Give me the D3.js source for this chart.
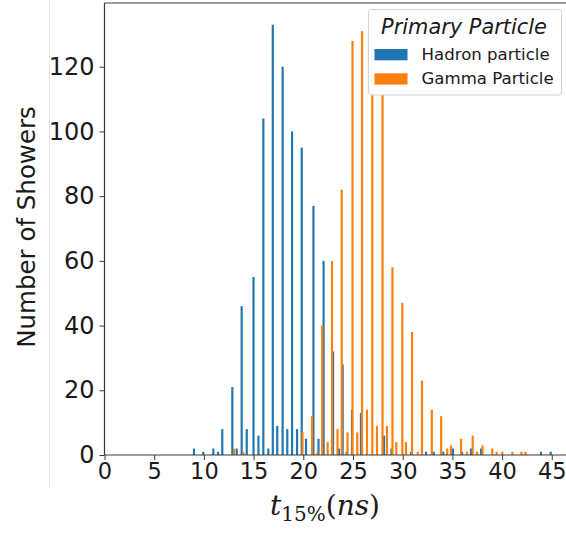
<!DOCTYPE html>
<html>
<head>
<meta charset="utf-8">
<script src="https://cdn.jsdelivr.net/npm/d3@7"></script>
<style>
  html, body { margin: 0; padding: 0; background: #fff; }
  svg { display: block; }
</style>
</head>
<body>
<svg id="chart" width="566" height="534"></svg>
<script>
// ---- data ----
const hadronT = [9.00, 9.94, 10.95, 11.42, 11.85, 12.86, 13.30, 13.80, 14.31, 14.99, 15.49, 15.98, 16.48, 16.93, 17.38, 17.92, 18.39, 18.87, 19.37, 19.84, 20.27, 21.02, 21.53, 22.04, 22.99, 23.59, 23.96, 24.35, 24.90, 25.80, 28.12, 28.87, 30.84, 32.35, 33.12, 34.08, 35.06, 35.97, 36.87, 37.88, 43.91, 44.89];
const hadronN = [2, 1, 2, 1, 8, 21, 2, 46, 8, 55, 6, 104, 2, 133, 9, 120, 8, 100, 8, 95, 5, 77, 5, 60, 32, 2, 28, 1, 14, 13, 6, 2, 1, 1, 1, 1, 2, 1, 2, 2, 1, 1];
const gammaT = [13.03, 13.96, 19.92, 20.88, 21.43, 21.90, 22.45, 22.89, 23.44, 23.87, 24.45, 24.95, 25.43, 25.91, 26.41, 26.94, 27.41, 27.97, 28.42, 28.97, 29.35, 29.96, 30.33, 30.94, 31.51, 31.94, 32.93, 33.87, 34.48, 34.86, 35.87, 36.47, 37.04, 37.47, 38.03, 39.01, 39.44, 40.02, 41.03, 41.95, 42.35];
const gammaN = [2, 1, 7, 12, 1, 40, 4, 60, 8, 82, 7, 128, 7, 131, 14, 121, 9, 112, 9, 58, 4, 47, 4, 38, 1, 23, 14, 12, 2, 3, 5, 1, 6, 1, 3, 2, 1, 1, 1, 1, 1];
const xTicks = [0, 5, 10, 15, 20, 25, 30, 35, 40, 45];
const yTicks = [0, 20, 40, 60, 80, 100, 120];
const seriesNames = ["Hadron particle", "Gamma Particle"];
const seriesColors = ["#1f77b4", "#ff7f0e"];
const legendTitle = "Primary Particle";
const yLabel = "Number of Showers";

// ---- layout ----
const svg = d3.select("#chart");
const x0 = 104.5, pxPerUnit = 9.94;
const xDomain = [0, 47];
const x = d3.scaleLinear().domain(xDomain).range([x0, x0 + (xDomain[1] - xDomain[0]) * pxPerUnit]);
const y = d3.scaleLinear().domain([0, 139.7]).range([455, 3]);
const barW = 0.22;
const textColor = "#1a1a1a";
const spineColor = "#3a3a3a";

// faint figure-edge line seen in the reference
svg.append("line").attr("x1", 49.5).attr("x2", 49.5).attr("y1", 0).attr("y2", 486)
  .attr("stroke", "#e6e6e6").attr("stroke-width", 1);

// bars
const series = [
  { t: hadronT, n: hadronN, color: seriesColors[0] },
  { t: gammaT, n: gammaN, color: seriesColors[1] }
];
series.forEach(s => {
  svg.append("g").selectAll("rect")
    .data(s.t.map((t, i) => ({ t, n: s.n[i] })))
    .join("rect")
    .attr("x", d => x(d.t - barW / 2))
    .attr("width", d => x(d.t + barW / 2) - x(d.t - barW / 2))
    .attr("y", d => y(d.n))
    .attr("height", d => y(0) - y(d.n))
    .attr("fill", s.color);
});

// spines (left, top)
svg.append("line").attr("x1", x(0)).attr("x2", x(0)).attr("y1", y.range()[1]).attr("y2", y(0))
  .attr("stroke", spineColor).attr("stroke-width", 1.2);
svg.append("line").attr("x1", x(0)).attr("x2", 566).attr("y1", y.range()[1]).attr("y2", y.range()[1])
  .attr("stroke", spineColor).attr("stroke-width", 1.2);

// axes
const xAxis = d3.axisBottom(x).tickValues(xTicks).tickSize(5).tickPadding(3).tickFormat(d3.format("d"));
const gx = svg.append("g").attr("transform", `translate(0,${y(0)})`).call(xAxis);
gx.select(".domain").attr("stroke", spineColor).attr("stroke-width", 1.2).attr("d", `M${x(0)},0H566`);
gx.selectAll(".tick line").attr("stroke", spineColor);
gx.selectAll(".tick text").attr("fill", textColor).style("font-family", "DejaVu Sans").style("font-size", "22.5px");

const yAxis = d3.axisLeft(y).tickValues(yTicks).tickSize(5).tickPadding(5).tickFormat(d3.format("d"));
const gy = svg.append("g").attr("transform", `translate(${x(0)},0)`).call(yAxis);
gy.select(".domain").remove();
gy.selectAll(".tick line").attr("stroke", spineColor);
gy.selectAll(".tick text").attr("fill", textColor).style("font-family", "DejaVu Sans").style("font-size", "24px");

// y label
svg.append("text")
  .attr("transform", `translate(35,227) rotate(-90)`)
  .attr("text-anchor", "middle")
  .attr("fill", textColor)
  .style("font-family", "DejaVu Sans").style("font-size", "24.5px")
  .text(yLabel);

// x label: t_{15%}(ns)
const xl = svg.append("text")
  .attr("x", 325).attr("y", 515)
  .attr("text-anchor", "middle")
  .attr("fill", textColor)
  .style("font-family", "DejaVu Serif").style("font-size", "28px");
xl.append("tspan").style("font-style", "italic").text("t");
xl.append("tspan").attr("dy", 6).style("font-size", "20px").text("15%");
xl.append("tspan").attr("dy", -6).text("(");
xl.append("tspan").style("font-style", "italic").text("ns");
xl.append("tspan").text(")");

// legend
const lg = svg.append("g");
lg.append("rect").attr("x", 368.5).attr("y", 9.5).attr("width", 193).attr("height", 85.5)
  .attr("rx", 3).attr("fill", "#fff").attr("stroke", "#d4d4d4").attr("stroke-width", 1);
lg.append("text").attr("x", 464).attr("y", 34).attr("text-anchor", "middle")
  .attr("fill", textColor).style("font-family", "DejaVu Sans").style("font-style", "italic").style("font-size", "20.9px")
  .text(legendTitle);
seriesNames.forEach((name, i) => {
  const yy = 49 + i * 24.3;
  lg.append("rect").attr("x", 374.5).attr("y", yy).attr("width", 33).attr("height", 11.3).attr("fill", seriesColors[i]);
  lg.append("text").attr("x", 421.5).attr("y", yy + 11).attr("fill", textColor)
    .style("font-family", "DejaVu Sans").style("font-size", "16.6px").text(name);
});
</script>
</body>
</html>
